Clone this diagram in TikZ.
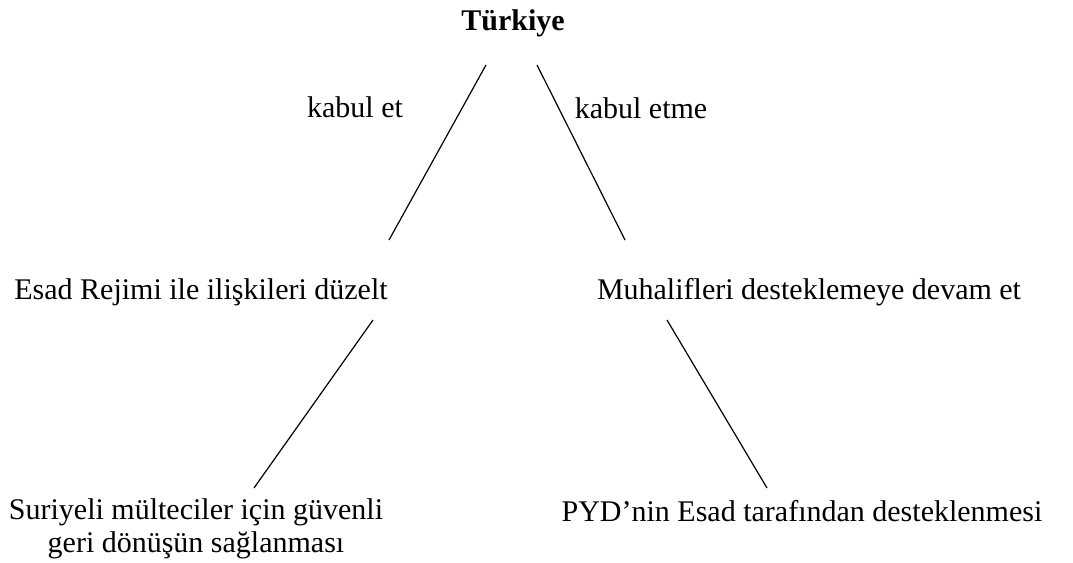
\documentclass[tikz,border=0pt]{standalone}
\usepackage{fontspec}
\setmainfont{Liberation Serif}
\begin{document}
\begin{tikzpicture}[x=1pt,y=-1pt,
  lbl/.style={font=\fontsize{30}{33}\selectfont, inner sep=0pt, align=center},
  conn/.style={line width=1.2pt, black}]
\useasboundingbox (0,0) rectangle (1073,562);
\node[lbl, font=\fontsize{30}{33}\selectfont\bfseries] (tr) at (513,23) {Türkiye};
\node[lbl] (ke) at (355,107) {kabul et};
\node[lbl] (kem) at (641,108) {kabul etme};
\node[lbl] (esad) at (201,292) {Esad Rejimi ile ilişkileri düzelt};
\node[lbl] (muh) at (809,292) {Muhalifleri desteklemeye devam et};
\node[lbl] (sur) at (196,529) {Suriyeli mülteciler için güvenli\\geri dönüşün sağlanması};
\node[lbl] (pyd) at (802,511) {PYD’nin Esad tarafından desteklenmesi};
\coordinate (a1) at (486,65);
\coordinate (a2) at (389,240);
\coordinate (b1) at (537,65);
\coordinate (b2) at (625,240);
\coordinate (c1) at (373,320);
\coordinate (c2) at (254,488);
\coordinate (d1) at (667,320);
\coordinate (d2) at (767,488);
\draw[conn] (a1) -- (a2);
\draw[conn] (b1) -- (b2);
\draw[conn] (c1) -- (c2);
\draw[conn] (d1) -- (d2);
\end{tikzpicture}
\end{document}
